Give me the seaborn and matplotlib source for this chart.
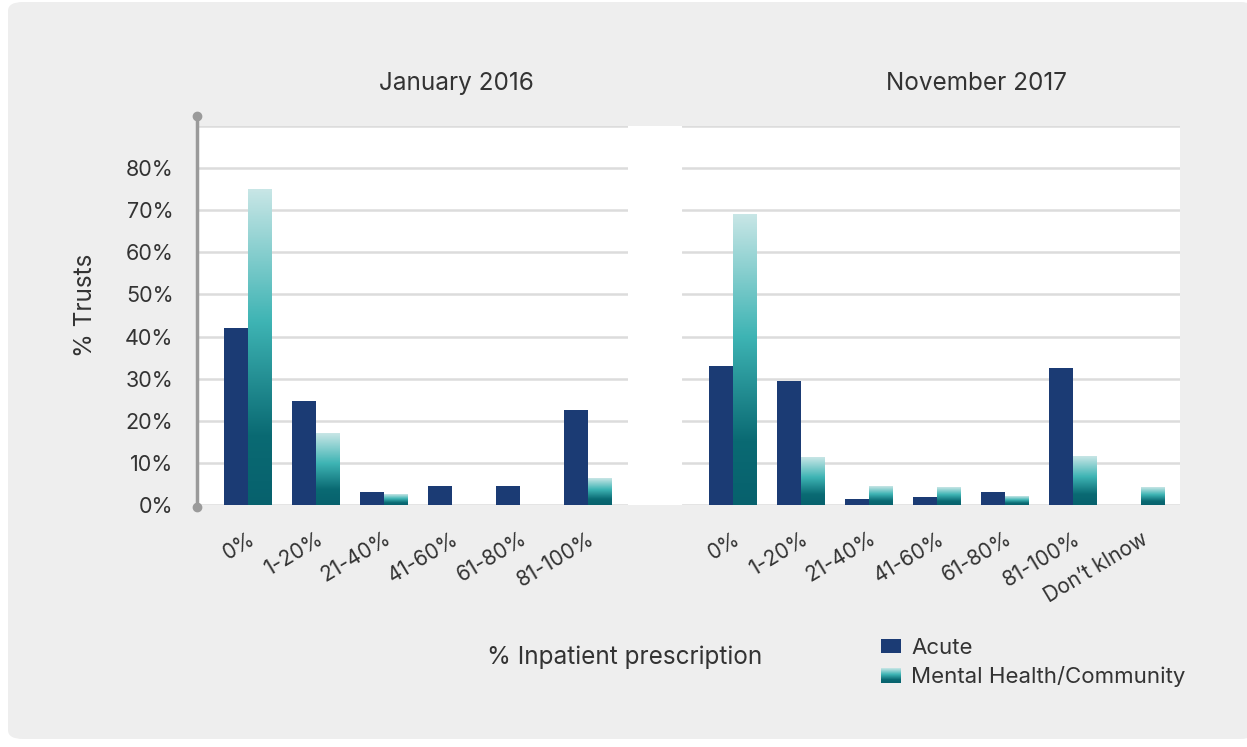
import numpy as np
import matplotlib.pyplot as plt
import pandas as pd
import seaborn as sns
from matplotlib.colors import LinearSegmentedColormap, to_rgb
from matplotlib.patches import Patch, Rectangle, FancyBboxPatch
from matplotlib.legend_handler import HandlerBase
from matplotlib.image import BboxImage
from matplotlib.transforms import Bbox, TransformedBbox

# Data
cats_2016 = ['0%', '1-20%', '21-40%', '41-60%', '61-80%', '81-100%']
cats_2017 = cats_2016 + ['Don’t kInow']
acute_2016 = [42.1, 24.8, 3.2, 4.5, 4.5, 22.6]
mh_2016 = [74.9, 16.9, 2.5, 0, 0, 6.3]
acute_2017 = [32.9, 29.5, 1.4, 1.8, 3.2, 32.6, 0]
mh_2017 = [69.0, 11.2, 4.5, 4.1, 2.0, 11.4, 4.1]
groups = ['Acute', 'Mental Health/Community']
titles = ['January 2016', 'November 2017']

navy = '#1b3b74'
teal = '#1a8a90'
text_col = '#333333'
grad_cmap = LinearSegmentedColormap.from_list(
    'mh', [(0, '#07616d'), (0.22, '#0a6a73'), (0.58, '#3eb4b4'), (1.0, '#c8e6e6')])

sns.set_style('white')
plt.rcParams['font.family'] = ['Inter', 'DejaVu Sans']

fig = plt.figure(figsize=(12.47, 7.47), dpi=100, facecolor='white')
fig.patches.append(FancyBboxPatch((8 / 1247, 8 / 747), 1.0, 737 / 747,
                                  boxstyle='round,pad=0,rounding_size=0.012',
                                  transform=fig.transFigure, facecolor='#eeeeee',
                                  edgecolor='none', zorder=-10))
ax1 = fig.add_axes([197 / 1247, 1 - 505 / 747, 431 / 1247, 379 / 747])
ax2 = fig.add_axes([682 / 1247, 1 - 505 / 747, 498 / 1247, 379 / 747])
# white band behind both panels
fig.patches.append(Rectangle((197 / 1247, 1 - 505 / 747), (1180 - 197) / 1247, 379 / 747,
                             transform=fig.transFigure, facecolor='white',
                             edgecolor='none', zorder=-5))

panels = [(ax1, cats_2016, acute_2016, mh_2016), (ax2, cats_2017, acute_2017, mh_2017)]
for i, (ax, cats, acute, mh) in enumerate(panels):
    df = pd.DataFrame({'category': cats * 2,
                       'group': [groups[0]] * len(cats) + [groups[1]] * len(cats),
                       'value': acute + mh})
    sns.barplot(data=df, x='category', y='value', hue='group', order=cats,
                hue_order=groups, palette={groups[0]: navy, groups[1]: teal},
                width=0.7, saturation=1, linewidth=0, legend=False, ax=ax)
    # gradient fill for mental health bars
    for p in list(ax.patches):
        if np.allclose(p.get_facecolor()[:3], to_rgb(teal)):
            h = p.get_height()
            if h > 0:
                x0 = p.get_x()
                ax.imshow(np.linspace(0, 1, 256).reshape(-1, 1), cmap=grad_cmap,
                          extent=[x0, x0 + p.get_width(), 0, h], origin='lower',
                          aspect='auto', zorder=p.get_zorder(), interpolation='bilinear')
            p.set_visible(False)
    ax.set_facecolor('white')
    ax.set_xlim(-0.75, len(cats) - 0.75 + (0.59 - 0.25 if i == 0 else 0.57 - 0.25))
    ax.set_ylim(0, 90)
    ax.set_yticks(range(0, 100, 10))
    ax.set_axisbelow(True)
    ax.yaxis.grid(True, color='#dcdcdc', lw=1.8)
    ax.xaxis.grid(False)
    for s in ax.spines.values():
        s.set_visible(False)
    ax.set_xlabel('')
    ax.set_ylabel('')
    ax.tick_params(axis='both', length=0)
    ax.set_xticks(range(len(cats)))
    ax.set_xticklabels(cats, rotation=31, ha='right', va='top',
                       rotation_mode='anchor', fontsize=15, color=text_col)
    ax.tick_params(axis='x', pad=17)
    ax.text(0.603 if i == 0 else 0.592, 1.111, titles[i], transform=ax.transAxes,
            ha='center', va='center', fontsize=17.5, color=text_col)

ax1.set_yticklabels([f'{v}%' if v <= 80 else '' for v in range(0, 100, 10)],
                    fontsize=15.5, color=text_col)
ax1.tick_params(axis='y', pad=17)
ax2.set_yticklabels([])
ax1.set_ylabel('% Trusts', fontsize=17.5, color=text_col)
ax1.yaxis.set_label_coords(-0.232, 0.528)
ax1.plot([0, 0], [-0.5, 92.4], transform=ax1.get_yaxis_transform(), color='#9a9a9a',
         lw=2.5, marker='o', ms=6, clip_on=False, zorder=5)
ax1.set_ylim(0, 90)

fig.text(625 / 1247, 1 - 657 / 747, '% Inpatient prescription', ha='center',
         va='center', fontsize=17.5, color=text_col)


class GradientHandler(HandlerBase):
    def create_artists(self, legend, orig_handle, xdescent, ydescent, width, height,
                       fontsize, trans):
        bb = TransformedBbox(Bbox.from_bounds(-xdescent, -ydescent, width, height), trans)
        img = BboxImage(bb, cmap=grad_cmap, interpolation='bilinear', origin='lower')
        img.set_data(np.linspace(0, 1, 64).reshape(-1, 1))
        return [img]


h_acute = Patch(facecolor=navy, edgecolor='none')
h_mh = Patch(facecolor=teal, edgecolor='none')
fig.legend([h_acute, h_mh], groups, loc='upper left',
           bbox_to_anchor=(881 / 1247, 1 - 638 / 747), frameon=False,
           borderpad=0, borderaxespad=0,
           fontsize=16, labelcolor=text_col, handlelength=0.9, handleheight=0.62,
           handletextpad=0.45, labelspacing=0.38,
           handler_map={h_mh: GradientHandler()})

fig.savefig('out.png', dpi=100, facecolor='white')
